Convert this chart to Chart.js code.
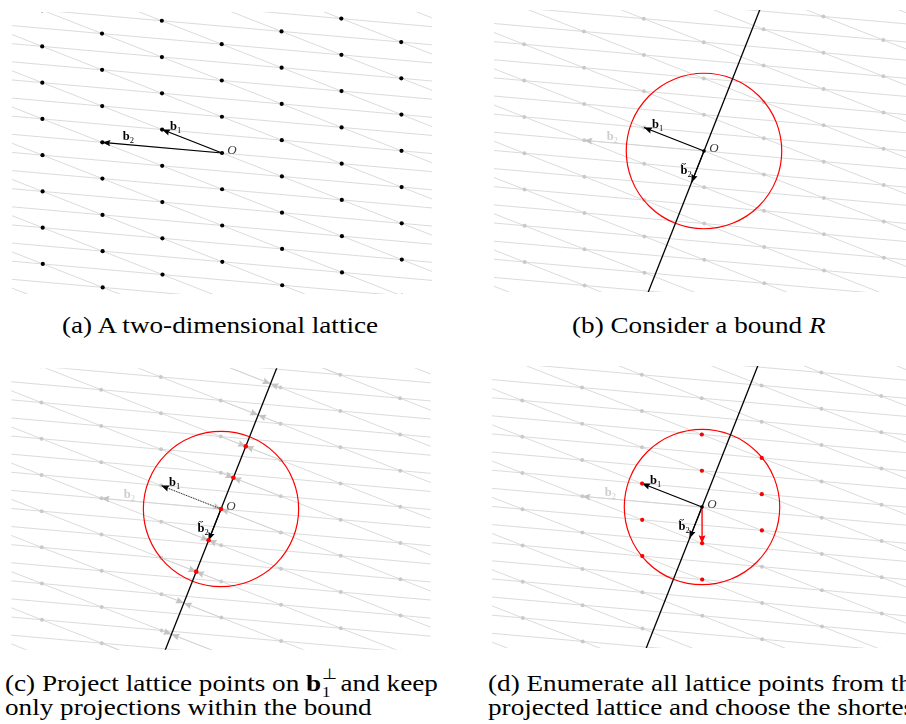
<!DOCTYPE html>
<html>
<head>
<meta charset="utf-8">
<script src="https://cdn.jsdelivr.net/npm/chart.js@4.4.0/dist/chart.umd.min.js"></script>
<style>
  html, body { margin: 0; padding: 0; background: #fff; }
  body { position: relative; width: 906px; height: 724px; overflow: hidden; }
  canvas { position: absolute; }
  .cap {
    position: absolute; white-space: nowrap; color: #000; transform-origin: 0 0;
    font-family: 'Liberation Serif', 'Times New Roman', serif; font-size: 23.5px; line-height: 24px;
  }
  .ss { position: relative; display: inline-block; width: 0.75em; font-size: 0.62em; }
  .ss .up { position: absolute; left: 0.05em; bottom: 0.64em; line-height: 1; }
  .ss .dn { position: absolute; left: 0.05em; top: -0.44em; line-height: 1; }
</style>
</head>
<body>
<canvas id="panelA" width="424" height="286" style="left:10px;top:10px"></canvas>
<canvas id="panelB" width="424" height="286" style="left:492px;top:8px"></canvas>
<canvas id="panelC" width="424" height="286" style="left:9px;top:366px"></canvas>
<canvas id="panelD" width="424" height="286" style="left:490px;top:364px"></canvas>

<div class="cap" id="capA" style="left:62px;top:313px">(a) A two-dimensional lattice</div>
<div class="cap" style="left:572px;top:313px">(b) Consider a bound <i>R</i></div>
<div class="cap" style="left:5px;top:671px">(c) Project lattice points on <b>b</b><span class="ss"><span class="up">⊥</span><span class="dn">1</span></span> and keep<br>only projections within the bound</div>
<div class="cap" style="left:488px;top:671px">(d) Enumerate all lattice points from the<br>projected lattice and choose the shortest</div>

<script>
// Lattice basis vectors (plot units, y pointing up)
const B1 = [-6.05, 2.38];
const B2 = [-12.09, 1.08];
// Radius of the search bound R
const BOUND_R = 7.85;
// Integer coefficients used to build the lattice
const COEF = 16;
// Multiples of the projected vector shown on the b1-perp line
const PROJ_STEPS = [-5, -4, -3, -2, -1, 0, 1, 2, 3, 4, 5];
// Coefficients (on b1, b2) of the shortest vector that gets picked
const SHORTEST = [-2, 1];
// Visible window of every panel
const VIEW_X = [-21.2, 21.2];
const VIEW_Y = [-14.3, 14.3];

const SERIF = "'Liberation Serif', 'Times New Roman', serif";

// ---- small vector helpers ----
const add = (p, q) => [p[0] + q[0], p[1] + q[1]];
const mul = (k, p) => [k * p[0], k * p[1]];
const dot = (p, q) => p[0] * q[0] + p[1] * q[1];
const norm = p => Math.hypot(p[0], p[1]);
const comb = (i, j) => add(mul(i, B1), mul(j, B2));
const ORIGIN = [0, 0];
const MU = dot(B2, B1) / dot(B1, B1);
const B2T = add(B2, mul(-MU, B1));           // b2 projected orthogonally to b1
const pts = arr => arr.map(p => ({ x: p[0], y: p[1] }));

const inView = (p, m) => p[0] >= VIEW_X[0] - m && p[0] <= VIEW_X[1] + m &&
                         p[1] >= VIEW_Y[0] - m && p[1] <= VIEW_Y[1] + m;

// lattice points
const latticePts = [];
for (let i = -COEF; i <= COEF; i++)
  for (let j = -COEF; j <= COEF; j++) {
    const p = comb(i, j);
    if (inView(p, 3)) latticePts.push(p);
  }

// one family of lattice lines, broken apart with null gaps
function familyLines(dir, step) {
  const out = [];
  const d = mul(1 / norm(dir), dir);
  for (let k = -COEF; k <= COEF; k++) {
    let c = mul(k, step);
    c = add(c, mul(-dot(c, d), d));           // foot point nearest the origin
    if (norm(c) > 30) continue;
    const a = add(c, mul(-45, d)), b = add(c, mul(45, d));
    out.push({ x: a[0], y: a[1] }, { x: b[0], y: b[1] }, { x: b[0], y: null });
  }
  return out;
}
const gridData = familyLines(B2, B1).concat(familyLines(B1, B2));

// ---- dataset builders ----
const GRID = '#d2d2d2', GRAYDOT = '#c9c9c9', GRAYHEAD = '#c4c4c4', RED = '#ff0000';
function lineDs(data, color, width, order, extra) {
  return Object.assign({ data, showLine: true, borderColor: color, borderWidth: width,
    pointRadius: 0, pointHoverRadius: 0, fill: false, spanGaps: false, order }, extra || {});
}
function dotDs(data, color, r, order) {
  return { data: pts(data), showLine: false, pointRadius: r, pointHoverRadius: r,
    pointBackgroundColor: color, pointBorderColor: color, pointBorderWidth: 0,
    backgroundColor: color, borderColor: color, order };
}
function arrowDs(from, to, color, width, order, head, dash) {
  return lineDs(pts([from, to]), color, width, order, { arrowHead: head, borderDash: dash || [] });
}
function circleDs(order) {
  return { data: [{ x: 0, y: 0 }], showLine: false, order,
    pointRadius: c => c.chart.scales.x.getPixelForValue(BOUND_R) - c.chart.scales.x.getPixelForValue(0),
    pointHoverRadius: 0, pointBackgroundColor: 'rgba(0,0,0,0)', pointBorderColor: RED,
    pointBorderWidth: 1.2 };
}
const gridDs = () => lineDs(gridData, GRID, 0.8, 100);
const perpDs = () => lineDs(pts([mul(-13, B2T), mul(13, B2T)]), '#000', 1.3, 70);
const HEAD = { len: 8, half: 3.2, color: '#000' };
const GHEAD = { len: 8, half: 3.4, color: GRAYHEAD };
const RHEAD = { len: 8, half: 3.4, color: RED };

// ---- drawing helpers for the plugin ----
function drawHead(ctx, x0, y0, x1, y1, h) {
  const ang = Math.atan2(y1 - y0, x1 - x0);
  ctx.save();
  ctx.translate(x1, y1); ctx.rotate(ang);
  ctx.beginPath();
  ctx.moveTo(0, 0);
  ctx.quadraticCurveTo(-h.len * 0.5, h.half * 0.55, -h.len, h.half);
  ctx.lineTo(-h.len * 0.85, 0);
  ctx.lineTo(-h.len, -h.half);
  ctx.quadraticCurveTo(-h.len * 0.5, -h.half * 0.55, 0, 0);
  ctx.closePath();
  ctx.fillStyle = h.color; ctx.fill();
  ctx.restore();
}
function drawVecLabel(ctx, x, y, sub, color, tilde) {
  ctx.save();
  ctx.fillStyle = color; ctx.strokeStyle = color; ctx.textBaseline = 'alphabetic';
  ctx.font = 'bold 12.5px ' + SERIF;
  const wb = ctx.measureText('b').width;
  ctx.font = '8.5px ' + SERIF;
  const ws = ctx.measureText(sub).width;
  const x0 = x - (wb + ws) / 2, base = y + 4;
  ctx.font = 'bold 12.5px ' + SERIF;
  ctx.fillText('b', x0, base);
  ctx.font = '8.5px ' + SERIF;
  ctx.fillText(sub, x0 + wb, base + 2.5);
  if (tilde) {
    const cx = x0 + wb * 0.45, ty = base - 10.5;
    ctx.lineWidth = 0.8;
    ctx.beginPath();
    ctx.moveTo(cx - 2.4, ty + 0.7);
    ctx.quadraticCurveTo(cx - 1.2, ty - 1, cx, ty);
    ctx.quadraticCurveTo(cx + 1.2, ty + 1, cx + 2.4, ty - 0.7);
    ctx.stroke();
  }
  ctx.restore();
}

const decorPlugin = {
  id: 'decor',
  afterDatasetDraw(chart, args) {
    const ds = chart.data.datasets[args.index];
    if (!ds.arrowHead) return;
    const el = args.meta.data;
    const a = el[el.length - 2], b = el[el.length - 1];
    const area = chart.chartArea, ctx = chart.ctx;
    ctx.save();
    ctx.beginPath(); ctx.rect(area.left, area.top, area.width, area.height); ctx.clip();
    drawHead(ctx, a.x, a.y, b.x, b.y, ds.arrowHead);
    ctx.restore();
  },
  afterDraw(chart, args, opts) {
    const ctx = chart.ctx, sx = chart.scales.x, sy = chart.scales.y;
    (opts.labels || []).forEach(l => {
      const x = sx.getPixelForValue(l.at[0]) + l.dx;
      const y = sy.getPixelForValue(l.at[1]) + l.dy;
      if (l.kind === 'O') {
        ctx.save();
        ctx.fillStyle = '#3a3a3a';
        ctx.font = 'italic 13px ' + SERIF;
        ctx.textAlign = 'center'; ctx.textBaseline = 'alphabetic';
        ctx.fillText('O', x, y + 4.5);
        ctx.restore();
      } else {
        drawVecLabel(ctx, x, y, l.sub, l.color, l.tilde);
      }
    });
  }
};

function makeChart(id, datasets, labels) {
  return new Chart(document.getElementById(id), {
    type: 'scatter',
    data: { datasets },
    options: {
      responsive: false, animation: false, events: [],
      layout: { padding: 0 },
      scales: {
        x: { type: 'linear', min: VIEW_X[0], max: VIEW_X[1], display: false },
        y: { type: 'linear', min: VIEW_Y[0], max: VIEW_Y[1], display: false }
      },
      plugins: { legend: { display: false }, tooltip: { enabled: false }, decor: { labels } }
    },
    plugins: [decorPlugin]
  });
}

const tipB1 = comb(1, 0), tipB2 = comb(0, 1);
const labelO = { kind: 'O', at: ORIGIN, dx: 10, dy: -4 };
const labelB1 = { at: tipB1, dx: 13.5, dy: -3.5, sub: '1', color: '#000' };
const labelB2T = { at: B2T, dx: -5.5, dy: -12, sub: '2', color: '#000', tilde: true };
const labelB2gray = { at: tipB2, dx: 28, dy: -4, sub: '2', color: '#cdcdcd' };

const charts = [];

// (a) the lattice with its basis
charts.push(makeChart('panelA', [
  gridDs(),
  dotDs(latticePts, '#000', 2.1, 90),
  arrowDs(ORIGIN, tipB1, '#000', 1.1, 40, HEAD),
  arrowDs(ORIGIN, tipB2, '#000', 1.1, 40, HEAD)
], [
  { at: tipB1, dx: 13.5, dy: -3.5, sub: '1', color: '#000' },
  { at: tipB2, dx: 26, dy: -6, sub: '2', color: '#000' },
  labelO
]));

// (b) bound R and the b1-perp line
charts.push(makeChart('panelB', [
  gridDs(),
  dotDs(latticePts, GRAYDOT, 2, 90),
  arrowDs(ORIGIN, tipB2, GRID, 0.8, 85, GHEAD),
  circleDs(80),
  perpDs(),
  arrowDs(ORIGIN, tipB1, '#000', 1.1, 40, HEAD),
  arrowDs(ORIGIN, B2T, '#000', 1.1, 40, HEAD),
  dotDs([ORIGIN], '#000', 1.8, 30)
], [labelB2gray, labelB1, labelB2T, labelO]));

// (c) projections of the lattice onto b1-perp
const projArrows = [];
const projInside = [];
PROJ_STEPS.forEach(j => {
  const P = mul(j, B2T);
  if (norm(P) <= BOUND_R) projInside.push(P);
  let iPos = Math.ceil(-MU * j + 1e-9);
  if (Math.abs(iPos + MU * j) < 1e-9) iPos += 1;
  let iNeg = Math.floor(-MU * j - 1e-9);
  if (Math.abs(iNeg + MU * j) < 1e-9) iNeg -= 1;
  [iPos, iNeg].forEach(i => projArrows.push(arrowDs(comb(i, j), P, GRID, 0.8, 75, GHEAD)));
});
charts.push(makeChart('panelC', [
  gridDs(),
  dotDs(latticePts, GRAYDOT, 2, 90),
  arrowDs(ORIGIN, tipB2, GRID, 0.8, 85, GHEAD),
  circleDs(80),
  ...projArrows,
  perpDs(),
  arrowDs(ORIGIN, tipB1, '#333', 1, 40, HEAD, [1.3, 1.3]),
  arrowDs(ORIGIN, B2T, '#000', 1.1, 40, HEAD),
  dotDs(projInside, RED, 2.3, 30)
], [labelB2gray, labelB1, labelB2T, labelO]));

// (d) lattice points inside the bound and the shortest vector
const insidePts = latticePts.filter(p => norm(p) > 1e-9 && norm(p) <= BOUND_R);
charts.push(makeChart('panelD', [
  gridDs(),
  dotDs(latticePts, GRAYDOT, 2, 90),
  arrowDs(ORIGIN, tipB2, GRID, 0.8, 85, GHEAD),
  circleDs(80),
  perpDs(),
  arrowDs(ORIGIN, tipB1, '#000', 1.1, 40, HEAD),
  arrowDs(ORIGIN, B2T, '#000', 1.1, 40, HEAD),
  dotDs(insidePts, RED, 2.1, 30),
  arrowDs(ORIGIN, comb(SHORTEST[0], SHORTEST[1]), RED, 1.3, 25, RHEAD),
  dotDs([ORIGIN], '#000', 1.8, 20)
], [labelB2gray, labelB1, labelB2T, labelO]));

// stretch the captions so the first one spans its set width
const CAPTION_A_WIDTH = 316;
function fitCaptions() {
  const capA = document.getElementById('capA');
  const caps = document.querySelectorAll('.cap');
  caps.forEach(el => { el.style.transform = 'none'; });
  const stretch = CAPTION_A_WIDTH / capA.getBoundingClientRect().width;
  caps.forEach(el => { el.style.transform = 'scaleX(' + stretch.toFixed(3) + ')'; });
}
fitCaptions();
</script>
</body>
</html>
